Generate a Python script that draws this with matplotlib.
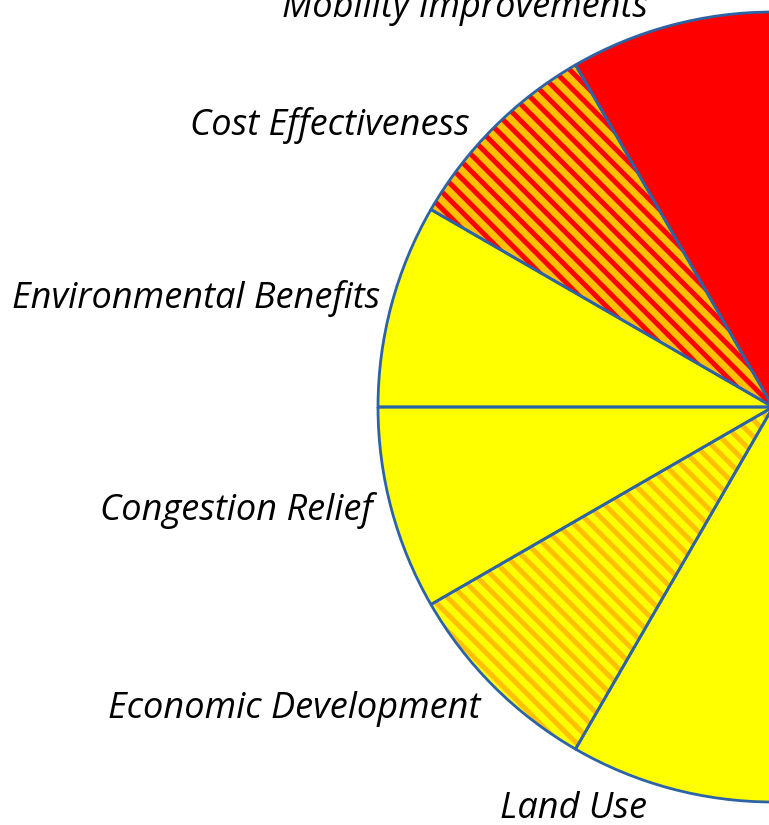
"""Half pie of project evaluation criteria, cropped at the centre."""

import matplotlib
matplotlib.use('Agg')
import matplotlib.pyplot as plt
from matplotlib.patches import Wedge

###################################################################################################
###################################################################################################

categories = ['Mobility Improvements', 'Cost Effectiveness', 'Environmental Benefits',
              'Congestion Relief', 'Economic Development', 'Land Use']
# Each criterion is one twelfth of the full pie; only the left half is in view
shares = [1 / 12] * 6

face_colors = ['#FF0000', '#FFC000', '#FFFF00', '#FFFF00', '#FFFF00', '#FFFF00']
hatch_colors = [None, '#FF0000', None, None, '#FFC000', None]

# Label anchors in pixels (right edge, baseline), from top-left of the figure
label_px = [(648, 17), (470, 135), (380, 308), (373, 520), (480, 718), (647, 818)]

W, H, DPI = 769, 825, 100
CX, CY, R = 773, 407, 395          # pie centre and radius in pixels
EDGE = '#2B63A6'


def to_data(px, py):
    return (px - CX) / R, (CY - py) / R


plt.rcParams['font.family'] = ['Open Sans', 'DejaVu Sans']
plt.rcParams['hatch.linewidth'] = 3.6

fig = plt.figure(figsize=(W / DPI, H / DPI), dpi=DPI)
ax = fig.add_axes([0, 0, 1, 1])

wedges, texts = ax.pie(shares, labels=categories, colors=face_colors, startangle=90,
                       counterclock=True, normalize=False, radius=1,
                       wedgeprops=dict(linewidth=0))

# Striped overlays, then the blue outlines on top
for wd, hc in zip(wedges, hatch_colors):
    if hc is not None:
        ax.add_patch(Wedge(wd.center, wd.r, wd.theta1, wd.theta2, facecolor='none',
                           edgecolor=hc, linewidth=0, hatch='\\\\', zorder=2))
    ax.add_patch(Wedge(wd.center, wd.r, wd.theta1, wd.theta2, fill=False,
                       edgecolor=EDGE, linewidth=2.0, zorder=3))

for txt, (px, py) in zip(texts, label_px):
    txt.set_position(to_data(px, py))
    txt.set_ha('right')
    txt.set_va('baseline')
    txt.set_fontsize(26)
    txt.set_style('italic')
    txt.set_color('black')

x0, y1 = to_data(0, 0)
x1, y0 = to_data(W, H)
ax.set_xlim(x0, x1)
ax.set_ylim(y0, y1)
ax.set_aspect('auto')
ax.axis('off')

fig.savefig('out.png', dpi=DPI)
